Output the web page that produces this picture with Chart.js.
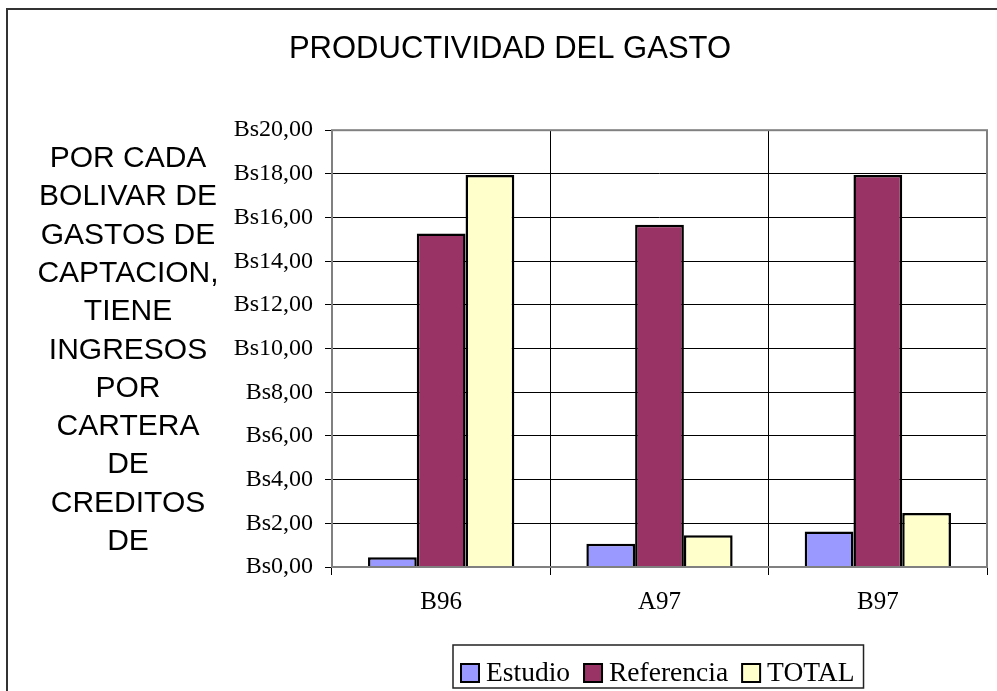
<!DOCTYPE html>
<html>
<head>
<meta charset="utf-8">
<script src="https://cdn.jsdelivr.net/npm/chart.js@4.4.1/dist/chart.umd.min.js"></script>
<style>
  html, body { margin: 0; padding: 0; background: #fff; overflow: hidden; }
</style>
</head>
<body>
<canvas id="c" width="997" height="691"></canvas>
<script>
// datos
const categories = ['B96', 'A97', 'B97'];
const estudio = [0.45, 1.06, 1.62];
const referencia = [15.27, 15.67, 17.95];
const total = [17.95, 1.45, 2.47];
const yTickLabels = ['Bs0,00', 'Bs2,00', 'Bs4,00', 'Bs6,00', 'Bs8,00', 'Bs10,00',
  'Bs12,00', 'Bs14,00', 'Bs16,00', 'Bs18,00', 'Bs20,00'];
const sideText = ['POR CADA', 'BOLIVAR DE', 'GASTOS DE', 'CAPTACION,', 'TIENE',
  'INGRESOS', 'POR', 'CARTERA', 'DE', 'CREDITOS', 'DE'];

const serif = "'Liberation Serif', 'Times New Roman', serif";
const sans = "'Liberation Sans', Arial, sans-serif";

// marco, texto lateral, borde del area y leyenda
const extras = {
  id: 'extras',
  afterDraw(chart) {
    const ctx = chart.ctx;
    const a = chart.chartArea;
    ctx.save();

    // marco exterior
    ctx.strokeStyle = '#333';
    ctx.lineWidth = 2;
    ctx.beginPath();
    ctx.moveTo(7, 691);
    ctx.lineTo(7, 9);
    ctx.lineTo(997, 9);
    ctx.stroke();

    // borde del area de trazado
    ctx.strokeStyle = '#808080';
    ctx.lineWidth = 2;
    ctx.strokeRect(a.left, a.top, a.right - a.left, a.bottom - a.top);

    // texto lateral
    ctx.fillStyle = '#000';
    ctx.font = '30px ' + sans;
    ctx.textAlign = 'center';
    ctx.textBaseline = 'alphabetic';
    sideText.forEach((t, i) => ctx.fillText(t, 128, 167 + i * 38.3));

    // leyenda
    const ds = chart.data.datasets;
    ctx.font = '27.5px ' + serif;
    ctx.textAlign = 'left';
    let x = 461;
    const sw = 18;
    const items = ds.map(d => ({ d, w: ctx.measureText(d.label).width }));
    const boxL = 453, boxT = 645, boxB = 688;
    let end = x;
    items.forEach(it => { end += sw + 7 + it.w + 14; });
    const boxR = end - 14 + 9;
    ctx.strokeStyle = '#222';
    ctx.lineWidth = 1.5;
    ctx.strokeRect(boxL, boxT, boxR - boxL, boxB - boxT);
    items.forEach(it => {
      ctx.fillStyle = it.d.backgroundColor;
      ctx.fillRect(x, 664, sw, sw);
      ctx.strokeStyle = '#000';
      ctx.lineWidth = 2;
      ctx.strokeRect(x, 664, sw, sw);
      ctx.fillStyle = '#000';
      ctx.fillText(it.d.label, x + sw + 7, 681);
      x += sw + 7 + it.w + 14;
    });
    ctx.restore();
  }
};

new Chart(document.getElementById('c'), {
  type: 'bar',
  data: {
    labels: categories,
    datasets: [
      { label: 'Estudio', data: estudio, backgroundColor: '#9999FF' },
      { label: 'Referencia', data: referencia, backgroundColor: '#993366' },
      { label: 'TOTAL', data: total, backgroundColor: '#FFFFCC' }
    ]
  },
  options: {
    responsive: false,
    animation: false,
    layout: { padding: { left: 33, right: 10, top: 0, bottom: 60 } },
    datasets: {
      bar: {
        borderColor: '#000',
        borderWidth: 2.5,
        categoryPercentage: 0.67,
        barPercentage: 1
      }
    },
    plugins: {
      legend: { display: false },
      tooltip: { enabled: false },
      title: {
        display: true,
        text: 'PRODUCTIVIDAD DEL GASTO',
        color: '#000',
        font: { family: sans, size: 31, weight: 'normal' },
        padding: { top: 31, bottom: 62 }
      }
    },
    scales: {
      x: {
        afterFit(s) { s.height = 64; },
        grid: { color: '#000', lineWidth: 1, tickLength: 8, offset: true },
        border: { display: false },
        ticks: { color: '#000', font: { family: serif, size: 25 }, padding: 12 }
      },
      y: {
        min: 0,
        max: 20,
        afterFit(s) { s.width = 299; },
        grid: { color: '#000', lineWidth: 1, tickLength: 7 },
        border: { display: false },
        ticks: {
          stepSize: 2,
          color: '#000',
          font: { family: serif, size: 24 },
          padding: 12,
          callback: (v, i) => yTickLabels[i]
        }
      }
    }
  },
  plugins: [extras]
});
</script>
</body>
</html>
